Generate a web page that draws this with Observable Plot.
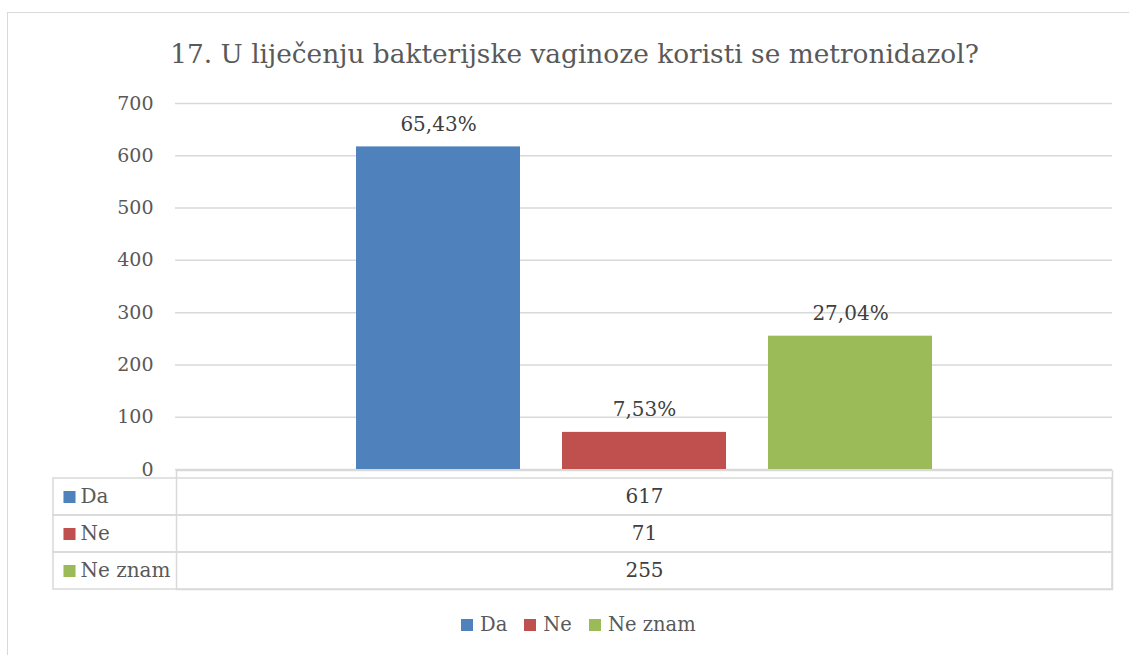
<!DOCTYPE html>
<html>
<head>
<meta charset="utf-8">
<script src="https://cdn.jsdelivr.net/npm/d3@7"></script>
<script src="https://cdn.jsdelivr.net/npm/@observablehq/plot@0.6"></script>
<style>
  html, body { margin: 0; padding: 0; background: #fff; overflow: hidden; }
  #wrap { position: relative; width: 1129px; height: 655px; font-family: 'DejaVu Serif', serif; color: #595959; }
  #border { position: absolute; left: 7px; top: 12px; width: 1200px; height: 700px; border: 1px solid #d9d9d9; }
  #title { position: absolute; left: 0; width: 1149px; top: 41px; text-align: center; font-size: 26.4px; line-height: 26px; white-space: nowrap; }
  #chart, #table, #legend { position: absolute; left: 0; }
  #chart { top: 0; }
  #table { top: 470px; }
  #legend { top: 608px; left: 461px; }
  .leg-swatch { margin-right: 17px !important; }
  .leg-swatch > svg { margin-right: 7px !important; }
</style>
</head>
<body>
<div id="wrap">
  <div id="border"></div>
  <div id="title"></div>
  <div id="chart"></div>
  <div id="table"></div>
  <div id="legend"></div>
</div>
<script>
const titleText = "17. U liječenju bakterijske vaginoze koristi se metronidazol?";
const series = ["Da", "Ne", "Ne znam"];
const counts = [617, 71, 255];
const percents = ["65,43%", "7,53%", "27,04%"];
const yTicks = [0, 100, 200, 300, 400, 500, 600, 700];

const palette = ["#4f81bd", "#c0504d", "#9bbb59"];
const gridColor = "#d9d9d9";
const font = "'DejaVu Serif', serif";

const data = series.map((s, i) => ({series: s, value: counts[i], pct: percents[i]}));

document.getElementById("title").textContent = titleText;

const chart = Plot.plot({
  width: 1129, height: 470,
  marginTop: 103, marginBottom: 1, marginLeft: 175, marginRight: 17,
  style: {fontFamily: font, fontSize: "19px", color: "#595959", background: "transparent", overflow: "visible"},
  x: {domain: series, paddingInner: 0.206, paddingOuter: 0.872, axis: null},
  y: {domain: [0, 700], axis: null},
  color: {domain: series, range: palette},
  marks: [
    Plot.ruleY(yTicks, {stroke: gridColor, strokeWidth: 1.5}),
    Plot.axisY(yTicks, {label: null, tickSize: 0, tickPadding: 22, tickFormat: d => String(d), fill: "#595959"}),
    Plot.barY(data, {x: "series", y: "value", fill: "series"}),
    Plot.text(data, {x: "series", y: "value", text: "pct", lineAnchor: "bottom", dy: -16, fill: "#404040", fontSize: 20})
  ]
});
document.getElementById("chart").append(chart);

const table = Plot.plot({
  width: 1129, height: 120,
  marginTop: 8, marginBottom: 1, marginLeft: 176, marginRight: 17,
  style: {fontFamily: font, fontSize: "20px", color: "#595959", background: "transparent", overflow: "visible"},
  y: {domain: series, padding: 0, axis: null},
  color: {domain: series, range: palette},
  marks: [
    Plot.frame({stroke: gridColor, strokeWidth: 1.5, insetTop: -8}),
    Plot.cell(data, {y: "series", fill: "none", stroke: gridColor, strokeWidth: 1.5, insetLeft: -123}),
    Plot.dot(data, {y: "series", fill: "series", symbol: "square", r: 6.8, frameAnchor: "left", dx: -107}),
    Plot.text(data, {y: "series", text: "series", frameAnchor: "left", textAnchor: "start", dx: -96, fill: "#595959"}),
    Plot.text(data, {y: "series", text: d => String(d.value), frameAnchor: "middle", fill: "#404040"})
  ]
});
document.getElementById("table").append(table);

const legend = Plot.legend({
  color: {domain: series, range: palette, type: "categorical"},
  swatchSize: 12,
  className: "leg",
  style: {fontFamily: font, fontSize: "19.5px", color: "#595959", margin: "0"}
});
document.getElementById("legend").append(legend);
</script>
</body>
</html>
